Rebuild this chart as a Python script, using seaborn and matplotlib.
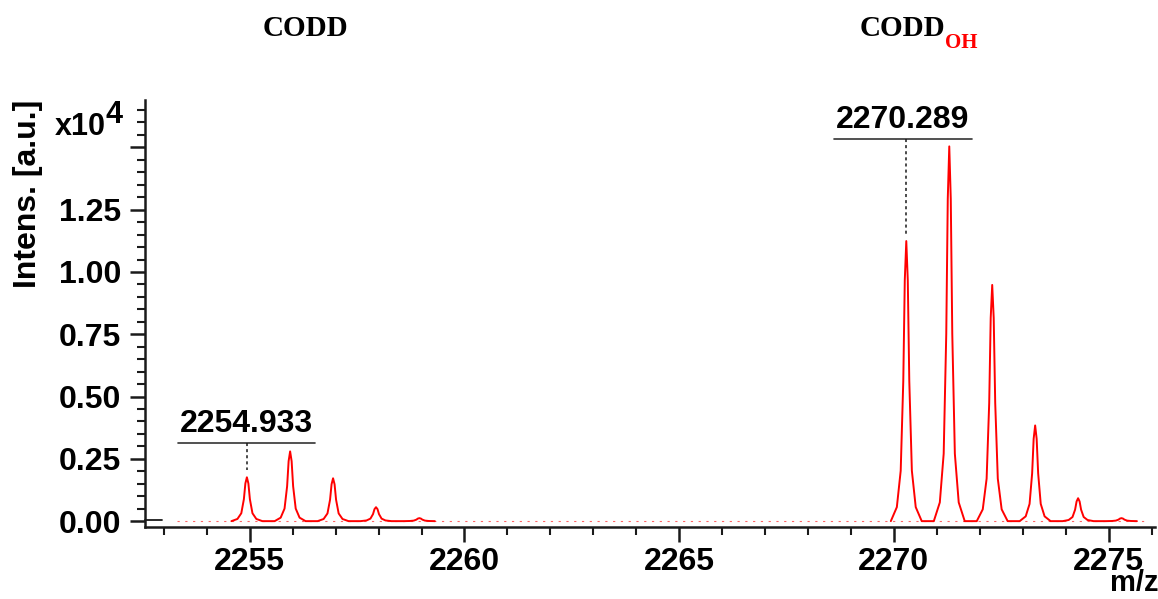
import seaborn as sns
import matplotlib.pyplot as plt
import pandas as pd
import numpy as np
from matplotlib.ticker import MultipleLocator, FuncFormatter

# peak lists (intensity in units of 1e4)
codd_mz = [2254.933, 2255.94, 2256.94, 2257.94, 2258.95]
codd_int = [0.176, 0.280, 0.172, 0.056, 0.012]
coddoh_mz = [2270.289, 2271.29, 2272.29, 2273.29, 2274.29, 2275.30]
coddoh_int = [1.124, 1.504, 0.948, 0.384, 0.092, 0.012]

# shape of one isotope peak (offset in m/z, fraction of peak height)
peak_offsets = [-0.36, -0.22, -0.13, -0.07, -0.035, 0.0, 0.035, 0.07, 0.13, 0.22, 0.36]
peak_fractions = [0.0, 0.05, 0.18, 0.50, 0.86, 1.0, 0.86, 0.50, 0.18, 0.05, 0.0]

labels = ["2254.933", "2270.289"]


def cluster_frame(mz_list, int_list, name):
    rows = []
    for mz, h in zip(mz_list, int_list):
        for off, frac in zip(peak_offsets, peak_fractions):
            rows.append([mz + off, h * frac, name])
    return pd.DataFrame(rows, columns=["mz", "intensity", "cluster"])


df = pd.concat([cluster_frame(codd_mz, codd_int, "CODD"),
                cluster_frame(coddoh_mz, coddoh_int, "CODDOH")], ignore_index=True)

sns.set_theme(style="ticks")
plt.rcParams["font.family"] = ["Liberation Sans", "DejaVu Sans"]
plt.rcParams["text.color"] = "black"

fig = plt.figure(figsize=(11.58, 5.99), dpi=100)
ax = fig.add_axes([0.1252, 0.12, 0.8718, 0.713])

# dotted baseline noise
ax.plot([2253.3, 2275.9], [0.0, 0.0], color="red", lw=0.8, ls=(0, (2, 5)), alpha=0.6)
sns.lineplot(data=df, x="mz", y="intensity", units="cluster", estimator=None,
             sort=False, color="red", lw=1.4, ax=ax)

ax.set_xlim(2252.56, 2276.07)
ax.set_ylim(-0.024, 1.69)
ax.set_xlabel("")
ax.set_ylabel("")

ax.xaxis.set_major_locator(MultipleLocator(5))
ax.xaxis.set_minor_locator(MultipleLocator(1))
ax.yaxis.set_major_locator(MultipleLocator(0.25))
ax.yaxis.set_minor_locator(MultipleLocator(0.05))
ax.yaxis.set_major_formatter(FuncFormatter(lambda v, p: "" if v > 1.3 else f"{v:.2f}"))
ax.xaxis.set_major_formatter(FuncFormatter(lambda v, p: f"{v:.0f}"))

sns.despine(ax=ax)
for s in ["left", "bottom"]:
    ax.spines[s].set_linewidth(1.8)
    ax.spines[s].set_color("#1a1a1a")
ax.tick_params(which="major", length=11, width=1.8, color="#1a1a1a",
               labelsize=23, labelcolor="black")
ax.tick_params(which="minor", length=6, width=1.5, color="#1a1a1a")
ax.tick_params(axis="y", which="major", pad=6)
ax.tick_params(axis="x", which="major", pad=3)
for t in ax.get_xticklabels() + ax.get_yticklabels():
    t.set_fontweight("bold")

# little zero marker at the left edge
ax.plot([2252.56, 2252.95], [0.006, 0.006], color="#1a1a1a", lw=1.3, clip_on=False)

# peak annotations
ann = [(codd_mz[0], codd_int[0], 2253.33, 2256.53, 0.312),
       (coddoh_mz[0], coddoh_int[0], 2268.61, 2271.81, 1.532)]
for (mz, h, x0, x1, yl), lab in zip(ann, labels):
    ax.plot([x0, x1], [yl, yl], color="#333333", lw=1.2)
    ax.plot([mz, mz], [yl, h + 0.03], color="#1a1a1a", lw=1.1, ls=(0, (2, 2)))
    ax.text((x0 + x1) / 2, yl + 0.016, lab, ha="center", va="bottom",
            fontsize=23, fontweight="bold", color="black")

# axis texts
fig.text(0.024, 0.677, "Intens. [a.u.]", rotation=90, ha="center", va="center",
         fontsize=23, fontweight="bold", color="black")
fig.text(0.047, 0.775, "x10", ha="left", va="baseline", fontsize=22,
         fontweight="bold", color="black")
fig.text(0.0915, 0.795, "4", ha="left", va="baseline", fontsize=22,
         fontweight="bold", color="black")
fig.text(1.0, 0.004, "m/z", ha="right", va="bottom", fontsize=21,
         fontweight="bold", color="black")

# cluster titles
fig.text(0.264, 0.953, "CODD", ha="center", va="center", fontsize=21, color="black",
         fontweight="bold", family=["Liberation Serif", "DejaVu Serif"])
fig.text(0.816, 0.953, "CODD", ha="right", va="center", fontsize=21, color="black",
         fontweight="bold", family=["Liberation Serif", "DejaVu Serif"])
fig.text(0.816, 0.928, "OH", ha="left", va="center", fontsize=15, color="red",
         fontweight="bold", family=["Liberation Serif", "DejaVu Serif"])

fig.savefig("out.png", dpi=100)
